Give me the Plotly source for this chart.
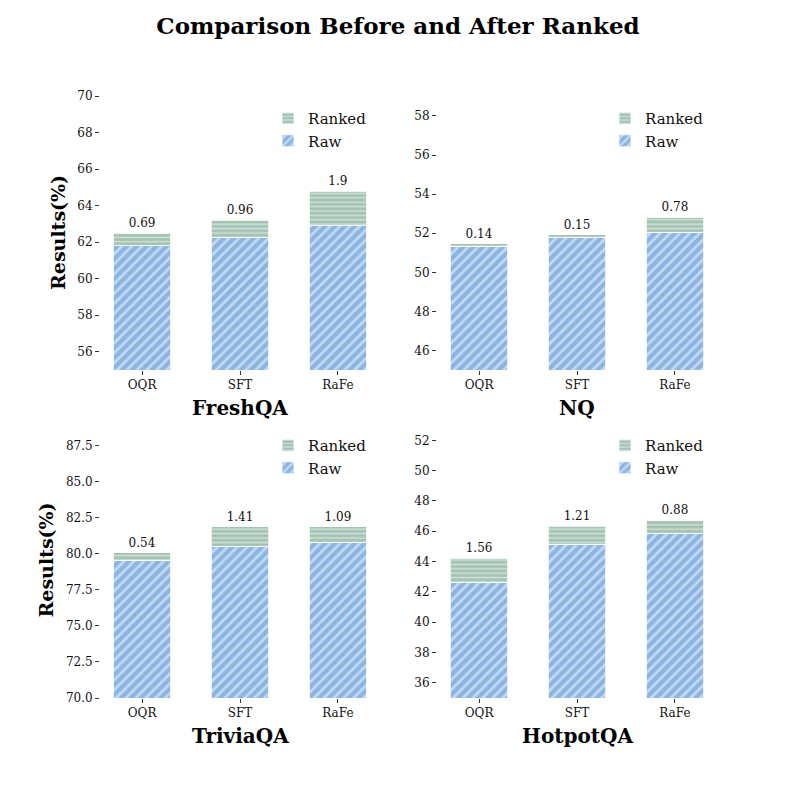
import plotly.graph_objects as go

# --- data ---
methods = ["OQR", "SFT", "RaFe"]
datasets = ["FreshQA", "NQ", "TriviaQA", "HotpotQA"]

freshqa_raw = [61.8, 62.25, 62.9]
freshqa_gain = [0.69, 0.96, 1.9]
nq_raw = [51.33, 51.76, 52.04]
nq_gain = [0.14, 0.15, 0.78]
triviaqa_raw = [79.55, 80.48, 80.8]
triviaqa_gain = [0.54, 1.41, 1.09]
hotpotqa_raw = [42.65, 45.13, 45.84]
hotpotqa_gain = [1.56, 1.21, 0.88]

raw_all = [freshqa_raw, nq_raw, triviaqa_raw, hotpotqa_raw]
gain_all = [freshqa_gain, nq_gain, triviaqa_gain, hotpotqa_gain]

y_ranges = [[55, 70.33], [45, 59.33], [70, 89.5], [35, 53.54]]
y_ticks = [list(range(56, 71, 2)), list(range(46, 59, 2)),
           [70.0, 72.5, 75.0, 77.5, 80.0, 82.5, 85.0, 87.5], list(range(36, 53, 2))]

FONT = "DejaVu Serif"
RAW_COLOR = "#8ab4e3"
RANKED_COLOR = "#a3c2b2"
W = 797
OFF = 8      # page body margin shifts the figure by this much
H_EFF = 789  # rendered height ends up a bit shorter than W


def px(v):
    # screen pixel -> paper fraction along x
    return (v - OFF) / W


def py(v):
    # screen pixel (from top) -> paper fraction along y
    return 1 - (v - OFF) / H_EFF


# panel boxes in screen pixels: (left, right, top, bottom)
panels = [(100, 380, 89, 369), (437, 717, 89, 369),
          (100, 380, 416, 697), (437, 717, 416, 697)]
ylabel_x = {0: 58, 2: 45}

fig = go.Figure()
layout = {}
annotations = []
xpos = list(range(len(methods)))

for i, name in enumerate(datasets):
    n = "" if i == 0 else str(i + 1)
    xa, ya = "x" + n, "y" + n
    leg = "legend" + n
    fig.add_trace(go.Bar(
        x=xpos, y=raw_all[i], name="Raw", xaxis=xa, yaxis=ya, legend=leg,
        width=0.585,
        marker=dict(color=RAW_COLOR, line=dict(color="white", width=0.8),
                    pattern=dict(shape="/", fgcolor="white", size=7, solidity=0.4)),
    ))
    fig.add_trace(go.Bar(
        x=xpos, y=gain_all[i], name="Ranked", xaxis=xa, yaxis=ya, legend=leg,
        width=0.585,
        text=[str(v) for v in gain_all[i]], textposition="outside",
        textfont=dict(family=FONT, size=12, color="#111"), cliponaxis=False,
        marker=dict(color=RANKED_COLOR, line=dict(color="white", width=0.8),
                    pattern=dict(shape="-", fgcolor="white", size=4.4, solidity=0.35)),
    ))

    l, r, t, b = panels[i]
    layout["xaxis" + n] = dict(
        domain=[px(l), px(r)], anchor=ya, range=[-0.43, 2.43],
        tickvals=xpos, ticktext=methods, ticks="outside", ticklen=4,
        tickcolor="#333", showline=False, showgrid=False, zeroline=False,
        tickfont=dict(family=FONT, size=12, color="#111"),
    )
    layout["yaxis" + n] = dict(
        domain=[py(b), py(t)], anchor=xa, range=y_ranges[i],
        tickvals=y_ticks[i], tickformat=".1f" if i == 2 else "d",
        ticks="outside", ticklen=4, tickcolor="#333",
        showline=False, showgrid=False, zeroline=False,
        tickfont=dict(family=FONT, size=12, color="#111"),
    )
    layout[leg] = dict(
        x=px(r - 112), y=py(t + 12), xanchor="left", yanchor="top",
        traceorder="reversed", bgcolor="rgba(0,0,0,0)",
        font=dict(family=FONT, size=15, color="#111"),
        itemwidth=30,
    )
    # dataset name under the panel
    annotations.append(dict(
        text="<b>" + name + "</b>", x=px((l + r) / 2), y=py(b + 38),
        xanchor="center", yanchor="middle",
        xref="paper", yref="paper", showarrow=False,
        font=dict(family=FONT, size=20, color="black"),
    ))
    if i in ylabel_x:
        annotations.append(dict(
            text="<b>Results(%)</b>", x=px(ylabel_x[i]), y=py((t + b) / 2 + 3),
            xanchor="center", yanchor="middle",
            xref="paper", yref="paper", showarrow=False, textangle=-90,
            font=dict(family=FONT, size=19, color="black"),
        ))

fig.update_layout(
    **layout,
    barmode="stack",
    width=W, height=W,
    margin=dict(l=0, r=0, t=0, b=0),
    paper_bgcolor="white", plot_bgcolor="white",
    title=dict(text="<b>Comparison Before and After Ranked</b>", x=px(398), xanchor="center",
               y=py(26), yanchor="middle",
               font=dict(family=FONT, size=23, color="black")),
    annotations=annotations,
)

fig.write_html("out.html")
